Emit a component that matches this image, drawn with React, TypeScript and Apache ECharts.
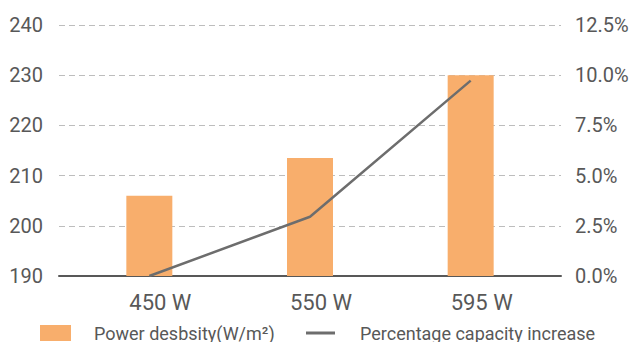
import React, { useEffect, useRef } from "react";
import * as echarts from "echarts";

const categories = ["450 W", "550 W", "595 W"];
const powerDensity = [206, 213.5, 230];
const capacityIncrease = [0, 2.95, 9.73];
const leftTicks = { min: 190, max: 240, interval: 10 };
const rightTicks = { min: 0, max: 12.5, interval: 2.5 };
const seriesNames = ["Power desbsity(W/m²)", "Percentage capacity increase"];

const FONT = "Roboto, 'DejaVu Sans', sans-serif";
const TEXT = "#585858";

export default function App() {
  const ref = useRef<HTMLDivElement>(null);
  useEffect(() => {
    if (!ref.current) return;
    const chart = echarts.init(ref.current, undefined, { renderer: "svg" });
    chart.setOption({
      animation: false,
      backgroundColor: "#ffffff",
      textStyle: { fontFamily: FONT },
      grid: [
        { left: 59, right: 73, top: 25, bottom: 66 },
        { left: 69, right: 83, top: 25, bottom: 66 },
      ],
      legend: [
        {
          data: [seriesNames[0]],
          left: 40,
          top: 324,
          padding: 0,
          itemWidth: 31,
          itemHeight: 16,
          icon: "rect",
          textStyle: { color: TEXT, fontSize: 18, lineHeight: 16, padding: [0, 0, 0, 18], fontFamily: FONT },
          selectedMode: false,
        },
        {
          data: [{ name: seriesNames[1], icon: "rect" }],
          left: 306,
          top: 324,
          padding: 0,
          itemWidth: 29,
          itemHeight: 3,
          textStyle: { color: TEXT, fontSize: 18, lineHeight: 16, padding: [0, 0, 0, 20], fontFamily: FONT },
          selectedMode: false,
        },
      ],
      xAxis: [
        {
          type: "category",
          gridIndex: 0,
          data: categories,
          axisLine: { show: true, onZero: false, lineStyle: { color: TEXT, width: 2 } },
          axisTick: { show: false },
          axisLabel: { show: false },
        },
        {
          type: "category",
          gridIndex: 1,
          data: categories,
          axisLine: { show: false },
          axisTick: { show: false },
          axisLabel: {
            color: TEXT,
            fontSize: 22,
            lineHeight: 22,
            margin: 15,
            padding: [0, 0, 0, 22],
            fontFamily: FONT,
          },
        },
      ],
      yAxis: [
        {
          type: "value",
          gridIndex: 0,
          position: "left",
          ...leftTicks,
          axisLine: { show: false },
          axisTick: { show: false },
          axisLabel: { color: TEXT, fontSize: 20, margin: 16, fontFamily: FONT },
          splitLine: { show: true, lineStyle: { color: "#bdbdbd", type: [6, 4], width: 1 } },
        },
        {
          type: "value",
          gridIndex: 0,
          position: "right",
          ...rightTicks,
          axisLine: { show: false },
          axisTick: { show: false },
          splitLine: { show: false },
          axisLabel: {
            color: TEXT,
            fontSize: 20,
            margin: 14,
            fontFamily: FONT,
            formatter: (v: number) => v.toFixed(1) + "%",
          },
        },
        {
          type: "value",
          gridIndex: 1,
          ...leftTicks,
          show: false,
          splitLine: { show: false },
        },
        {
          type: "value",
          gridIndex: 1,
          ...rightTicks,
          show: false,
          splitLine: { show: false },
        },
      ],
      series: [
        {
          name: seriesNames[0],
          type: "bar",
          xAxisIndex: 1,
          yAxisIndex: 2,
          data: powerDensity,
          barWidth: 46,
          itemStyle: { color: "#f8ae6c" },
        },
        {
          name: seriesNames[1],
          type: "line",
          xAxisIndex: 1,
          yAxisIndex: 3,
          data: capacityIncrease,
          symbol: "none",
          lineStyle: { color: "#6d6d6d", width: 2.5 },
          itemStyle: { color: "#6d6d6d" },
        },
      ],
    });
    return () => chart.dispose();
  }, []);
  return <div ref={ref} style={{ position: "fixed", left: 0, top: 0, width: 634, height: 342 }} />;
}
